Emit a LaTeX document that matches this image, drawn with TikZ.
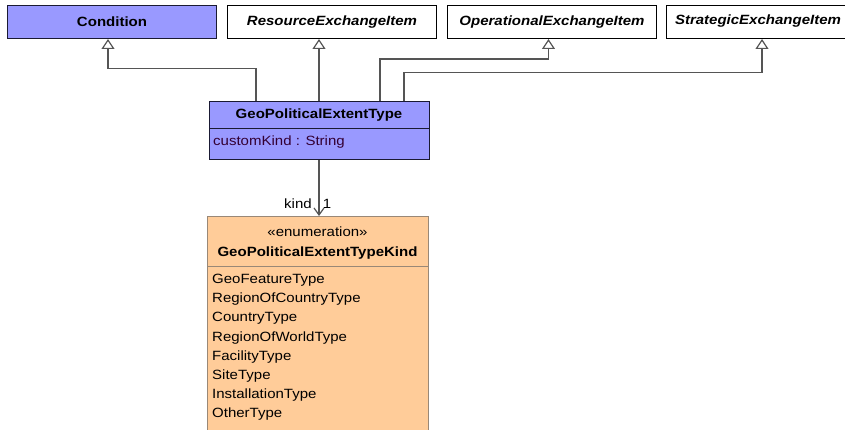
\documentclass[tikz,border=0pt]{standalone}
\usepackage{fontspec}
\setmainfont{Liberation Sans}[FakeStretch=1.12]
\usetikzlibrary{arrows.meta}
\definecolor{clsblue}{HTML}{9999FF}
\definecolor{clsorange}{HTML}{FFCC99}
\definecolor{navyline}{HTML}{1A1A33}
\definecolor{orangeline}{HTML}{998877}
\definecolor{connline}{HTML}{555555}
\definecolor{attrtext}{HTML}{330033}
\begin{document}
\begin{tikzpicture}[x=1pt,y=-1pt,
  every node/.style={font=\fontsize{13.4}{16}\selectfont, inner sep=0pt},
  topbox/.style={draw=black, line width=1pt, minimum width=209pt, minimum height=33pt, anchor=north west},
  bluebox/.style={topbox, fill=clsblue, draw=navyline},
  whitebox/.style={topbox, fill=white},
  gen/.style={draw=connline, line width=1.2pt, -{Triangle[open, length=10pt, width=13pt, fill=white]}},
  assoc/.style={draw=connline, line width=1.2pt, -{Straight Barb[length=7pt, width=10pt]}},
  item/.style={anchor=west}
]
\useasboundingbox (0,0) rectangle (845,430);
\clip (0,0) rectangle (845,430);

% top classes
\node[bluebox] (cond) at (7,5) {\bfseries Condition};
\node[whitebox] (res) at (227,5) {\bfseries\itshape ResourceExchangeItem};
\node[whitebox] (op) at (447,5) {\bfseries\itshape OperationalExchangeItem};
\node[whitebox, minimum width=214pt] (strat) at (666,5) {};
\node (strattext) at (758,21.5) {\bfseries\itshape StrategicExchangeItem};

% GeoPoliticalExtentType
\node[draw=navyline, fill=clsblue, line width=1pt, minimum width=220pt, minimum height=58pt, anchor=north west] (geo) at (209,101) {};
\draw[navyline, line width=1pt] (209,129) -- (429,129);
\node (geoname) at (319,115.5) {\bfseries GeoPoliticalExtentType};
\node[item, text=attrtext] (geoattr) at (213,142.5) {customKind : String};

% Enumeration
\node[draw=orangeline, fill=clsorange, line width=1pt, minimum width=221pt, minimum height=230pt, anchor=north west] (enum) at (207,216) {};
\draw[orangeline, line width=1pt] (207,266) -- (428,266);
\node (stereo) at (317.5,231.5) {«enumeration»};
\node (enumname) at (317.5,253.5) {\bfseries GeoPoliticalExtentTypeKind};
\node[item] (i1) at (212,280.5) {GeoFeatureType};
\node[item] (i2) at (212,299.5) {RegionOfCountryType};
\node[item] (i3) at (212,318.5) {CountryType};
\node[item] (i4) at (212,338) {RegionOfWorldType};
\node[item] (i5) at (212,357.5) {FacilityType};
\node[item] (i6) at (212,376.5) {SiteType};
\node[item] (i7) at (212,395.5) {InstallationType};
\node[item] (i8) at (212,414.5) {OtherType};

% generalizations
\coordinate (c1) at (256,68.5);
\coordinate (c3) at (380,59);
\coordinate (c4) at (404,72.5);
\coordinate (a1) at (108,0);
\coordinate (a2) at (319,0);
\coordinate (a3) at (548.5,0);
\coordinate (a4) at (762,0);
\draw[gen] (geo.north -| c1) -- (c1) -| (cond.south -| a1);
\draw[gen] (geo.north -| a2) -- (res.south -| a2);
\draw[gen] (geo.north -| c3) -- (c3) -| (op.south -| a3);
\draw[gen] (geo.north -| c4) -- (c4) -| (strat.south -| a4);

% association
\draw[assoc] (geo.south -| a2) -- (enum.north -| a2);
\node (kindlbl) at (298,203.5) {kind};
\node (multlbl) at (327,203.5) {1};
\end{tikzpicture}
\end{document}
